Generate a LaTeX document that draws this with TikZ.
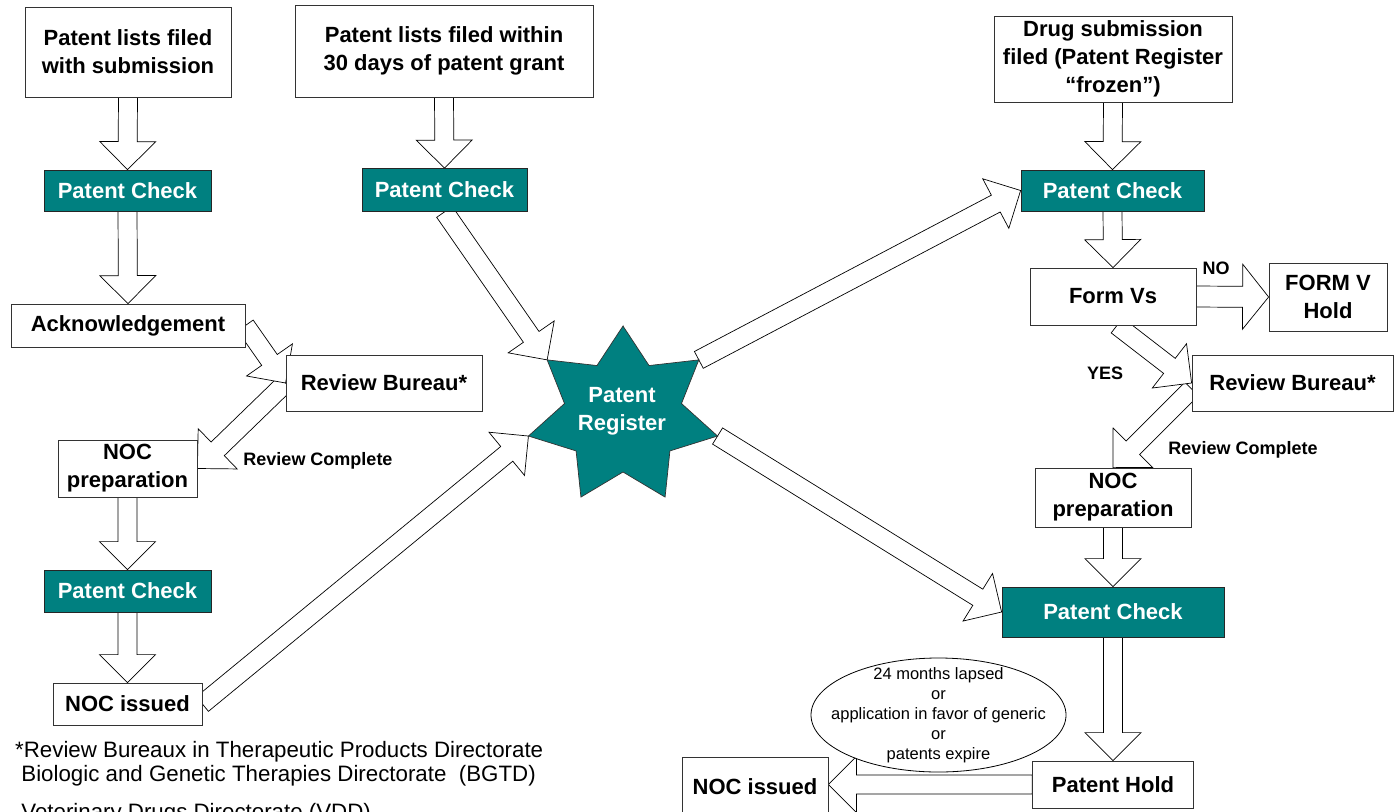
\documentclass[tikz,border=0pt]{standalone}
\usepackage{fontspec}
\setmainfont{Liberation Sans}
\usetikzlibrary{calc,shapes.geometric,backgrounds}
\definecolor{tealbox}{RGB}{0,128,128}

% block-arrow geometry: half shaft width, extra head half width, head length
\newcommand\arrw{9.5pt}
\newcommand\arre{18.5pt}
\newcommand\arrh{28pt}

% hollow block arrow from #1 to #2 (tip at #2)
\newcommand{\fatarrow}[2]{%
  \path[fat] let \p1=#1, \p2=#2,
    \n1={atan2(\y2-\y1,\x2-\x1)},
    \n2={veclen(\x2-\x1,\y2-\y1)} in
    ($(\p1)+({\n1+90}:\arrw)$) -- ++(\n1:{\n2-\arrh}) -- ++({\n1+90}:\arre) -- (\p2)
    -- ($(\p1)+(\n1:{\n2-\arrh})+({\n1-90}:{\arrw+\arre})$) -- ++({\n1+90}:\arre)
    -- ($(\p1)+({\n1-90}:\arrw)$) -- cycle;}

\tikzset{
  box/.style={draw=black!80, fill=white, line width=0.8pt, align=center, inner sep=0pt,
    font=\bfseries\fontsize{22}{28}\selectfont},
  chk/.style={box, fill=tealbox, text=white, draw=black!85},
  lbl/.style={font=\bfseries\fontsize{18}{22}\selectfont, inner sep=0pt},
  note/.style={font=\fontsize{22.3}{26}\selectfont, inner sep=0pt, anchor=base west},
  fat/.style={draw=black, fill=white, line width=0.7pt, line join=miter},
  starshape/.style={fill=tealbox, draw=black!80, line width=0.7pt, line join=miter}
}

\begin{document}
\begin{tikzpicture}[x=1pt, y=-1pt]
\useasboundingbox (0,0) rectangle (1394,811);

% ---- left column
\node[box, minimum width=206pt, minimum height=90pt] (box1) at (128,52) {Patent lists filed\\with submission};
\node[chk, minimum width=167pt, minimum height=41pt] (pc1) at (127.5,190.5) {Patent Check};
\node[box, minimum width=234pt, minimum height=43pt] (ack) at (128,325.5) {Acknowledgement};
\node[box, minimum width=196pt, minimum height=56pt] (rb1) at (384,383) {Review Bureau*};
\node[box, minimum width=139pt, minimum height=57pt] (nocp1) at (127.5,468.5) {NOC\\preparation};
\node[chk, minimum width=167pt, minimum height=42pt] (pc4) at (127.5,591) {Patent Check};
\node[box, minimum width=149pt, minimum height=42pt] (noc1) at (127.5,704) {NOC issued};

% ---- middle column
\node[box, minimum width=298pt, minimum height=92pt] (box2) at (444,51) {Patent lists filed within\\30 days of patent grant};
\node[chk, minimum width=165pt, minimum height=43pt] (pc2) at (444.5,190) {Patent Check};

% seven-pointed register star
\coordinate (sc) at (623,416);
\draw[starshape] ($(sc)+(90:97pt and 90pt)$)
  \foreach \k in {0,...,6} {
    -- ($(sc)+({115.7143+\k*51.4286}:60pt and 56pt)$)
    -- ($(sc)+({141.4286+\k*51.4286}:97pt and 90pt)$) } -- cycle;
\coordinate (sp2) at ($(sc)+(141.4286:97pt and 90pt)$);
\coordinate (sp3) at ($(sc)+(192.8571:97pt and 90pt)$);
\coordinate (sp6) at ($(sc)+(347.1429:97pt and 90pt)$);
\coordinate (sp7) at ($(sc)+(38.5714:97pt and 90pt)$);
\node[align=center, text=white, inner sep=0pt, font=\bfseries\fontsize{22}{28}\selectfont] (reg) at (622,411) {Patent\\Register};

% ---- right column
\node[box, minimum width=238pt, minimum height=86pt] (box3) at (1113,59) {Drug submission\\filed (Patent Register\\“frozen”)};
\node[chk, minimum width=183pt, minimum height=41pt] (pc3) at (1112.5,190.5) {Patent Check};
\node[box, minimum width=166pt, minimum height=57pt] (formvs) at (1113,296.5) {Form Vs};
\node[box, minimum width=118pt, minimum height=68pt] (fvhold) at (1328,297) {FORM V\\Hold};
\node[box, minimum width=201pt, minimum height=56pt] (rb2) at (1292.5,383) {Review Bureau*};
\node[box, minimum width=156pt, minimum height=59pt] (nocp2) at (1113,497.5) {NOC\\preparation};
\node[chk, minimum width=222pt, minimum height=50pt] (pc5) at (1113,612) {Patent Check};
\node[box, minimum width=161pt, minimum height=47pt] (phold) at (1113,784.5) {Patent Hold};
\node[box, minimum width=146pt, minimum height=60pt] (noc2) at (755,787) {NOC issued};
\node[ellipse, draw=black, fill=white, line width=0.8pt, minimum width=255pt, minimum height=114pt,
      inner sep=0pt] (cond) at (938.5,715) {};
\node[align=center, inner sep=0pt, font=\fontsize{16.5}{20}\selectfont] (condtext) at (cond.center)
  {24 months lapsed\\or\\application in favor of generic\\or\\patents expire};

% ---- labels
\node[lbl] (no) at (1216,268) {NO};
\node[lbl] (yes) at (1105,373) {YES};
\node[lbl] (rc1) at (318,461) {Review Complete};
\node[lbl] (rc2) at (1243,450) {Review Complete};

% ---- footnote
\node[note] (n1) at (15,757) {*Review Bureaux in Therapeutic Products Directorate};
\node[note] (n2) at (15,781) {\ Biologic and Genetic Therapies Directorate\ \ (BGTD)};
\node[note] (n3) at (15,819) {\ Veterinary Drugs Directorate (VDD)};

% ---- block arrows, behind the boxes
\begin{scope}[on background layer]
  \fatarrow{(box1.south)}{(pc1.north)}
  \fatarrow{(box2.south)}{(pc2.north)}
  \fatarrow{(box3.south)}{(pc3.north)}
  \fatarrow{(pc1.south)}{(ack.north)}
  \fatarrow{(rb1.west)}{(nocp1.east)}
  \fatarrow{(ack.east)}{(rb1.west)}
  \fatarrow{(nocp1.south)}{(pc4.north)}
  \fatarrow{(pc4.south)}{(noc1.north)}
  \fatarrow{(noc1.east)}{(sp3)}
  \fatarrow{(pc2.south)}{(sp2)}
  \fatarrow{(sp7)}{(pc3.west)}
  \fatarrow{(sp6)}{(pc5.west)}
  \fatarrow{(pc3.south)}{(formvs.north)}
  {\renewcommand\arrw{10.5pt}\renewcommand\arre{22pt}\renewcommand\arrh{26pt}%
   \fatarrow{(formvs.east)}{(fvhold.west)}}
  \fatarrow{($(rb2.west)+(0,6)$)}{(nocp2.north)}
  \fatarrow{($(formvs.south)+(4,0)$)}{(rb2.west)}
  \fatarrow{(nocp2.south)}{(pc5.north)}
  \fatarrow{(pc5.south)}{(phold.north)}
  \fatarrow{(phold.west)}{(noc2.east |- phold.west)}
\end{scope}
\end{tikzpicture}
\end{document}
